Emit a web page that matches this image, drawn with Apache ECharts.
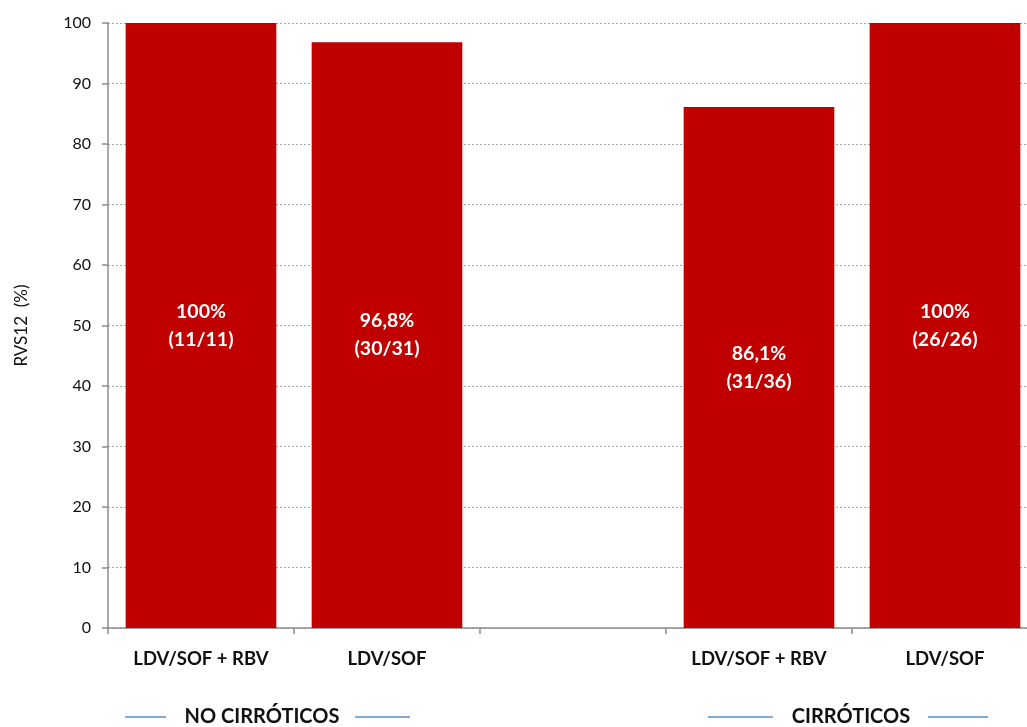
<!DOCTYPE html>
<html>
<head>
<meta charset="utf-8">
<script src="https://cdn.jsdelivr.net/npm/echarts@6/dist/echarts.min.js"></script>
<style>
  html, body { margin: 0; padding: 0; background: #fff; }
  #chart { width: 1027px; height: 727px; }
</style>
</head>
<body>
<div id="chart"></div>
<script>
// Treatment arms (an empty slot separates the two patient groups)
const categories = ['LDV/SOF + RBV', 'LDV/SOF', '', 'LDV/SOF + RBV', 'LDV/SOF'];
// SVR12 rate per arm (%)
const svrValues = [100, 96.8, null, 86.1, 100];
// Responders / treated per arm
const responders = ['11/11', '30/31', '', '31/36', '26/26'];
// Printed percentages
const pctLabels = ['100%', '96,8%', '', '86,1%', '100%'];
// Y axis range
const yMin = 0, yMax = 100, yStep = 10;

const FONT = 'Lato, "Open Sans", sans-serif';

const chart = echarts.init(document.getElementById('chart'));

const option = {
  animation: false,
  backgroundColor: '#ffffff',
  grid: {
    left: 108, top: 23, width: 930, height: 605,
    containLabel: false, outerBoundsMode: 'none'
  },
  xAxis: {
    type: 'category',
    data: categories,
    axisLine: { lineStyle: { color: '#8c8c8c', width: 1.5 } },
    axisTick: { show: true, length: 6, lineStyle: { color: '#8c8c8c', width: 1.5 } },
    axisLabel: {
      color: '#111', fontFamily: FONT, fontWeight: 'bold', fontSize: 18.5, margin: 22
    },
    splitLine: { show: false }
  },
  yAxis: {
    type: 'value',
    min: yMin, max: yMax, interval: yStep,
    name: 'RVS12  (%)',
    nameLocation: 'middle',
    nameGap: 78,
    nameRotate: 90,
    nameTextStyle: { color: '#111', fontFamily: FONT, fontSize: 17 },
    axisLine: { show: true, lineStyle: { color: '#8c8c8c', width: 1.5 } },
    axisTick: { show: true, length: 6, lineStyle: { color: '#8c8c8c', width: 1.5 } },
    axisLabel: { color: '#111', fontFamily: FONT, fontSize: 16, margin: 17 },
    splitLine: { show: true, lineStyle: { color: '#a6a6a6', type: [2, 2], width: 1 } }
  },
  series: [{
    type: 'bar',
    data: svrValues,
    barCategoryGap: '19%',
    itemStyle: { color: '#c00000' },
    label: {
      show: true,
      position: 'inside',
      formatter: p => pctLabels[p.dataIndex] + '\n(' + responders[p.dataIndex] + ')',
      color: '#ffffff',
      fontFamily: FONT,
      fontWeight: 'bold',
      fontSize: 19.5,
      lineHeight: 28
    }
  }]
};

chart.setOption(option);

// Group captions under the axis, flanked by short blue rules
const groups = [
  { text: 'NO CIRRÓTICOS', cx: 262, l1: [125, 166], l2: [355, 410] },
  { text: 'CIRRÓTICOS', cx: 851, l1: [708, 773], l2: [928, 988] }
];
const gy = 717;
const graphics = [];
groups.forEach(g => {
  graphics.push({
    type: 'text', x: g.cx, y: gy,
    style: {
      text: g.text, fill: '#111', font: 'bold 20px ' + FONT,
      textAlign: 'center', textVerticalAlign: 'middle'
    }
  });
  [g.l1, g.l2].forEach(seg => {
    graphics.push({
      type: 'line',
      shape: { x1: seg[0], y1: gy, x2: seg[1], y2: gy },
      style: { stroke: '#5b8bc9', lineWidth: 1.5 }
    });
  });
});
chart.setOption({ graphic: graphics });
</script>
</body>
</html>
